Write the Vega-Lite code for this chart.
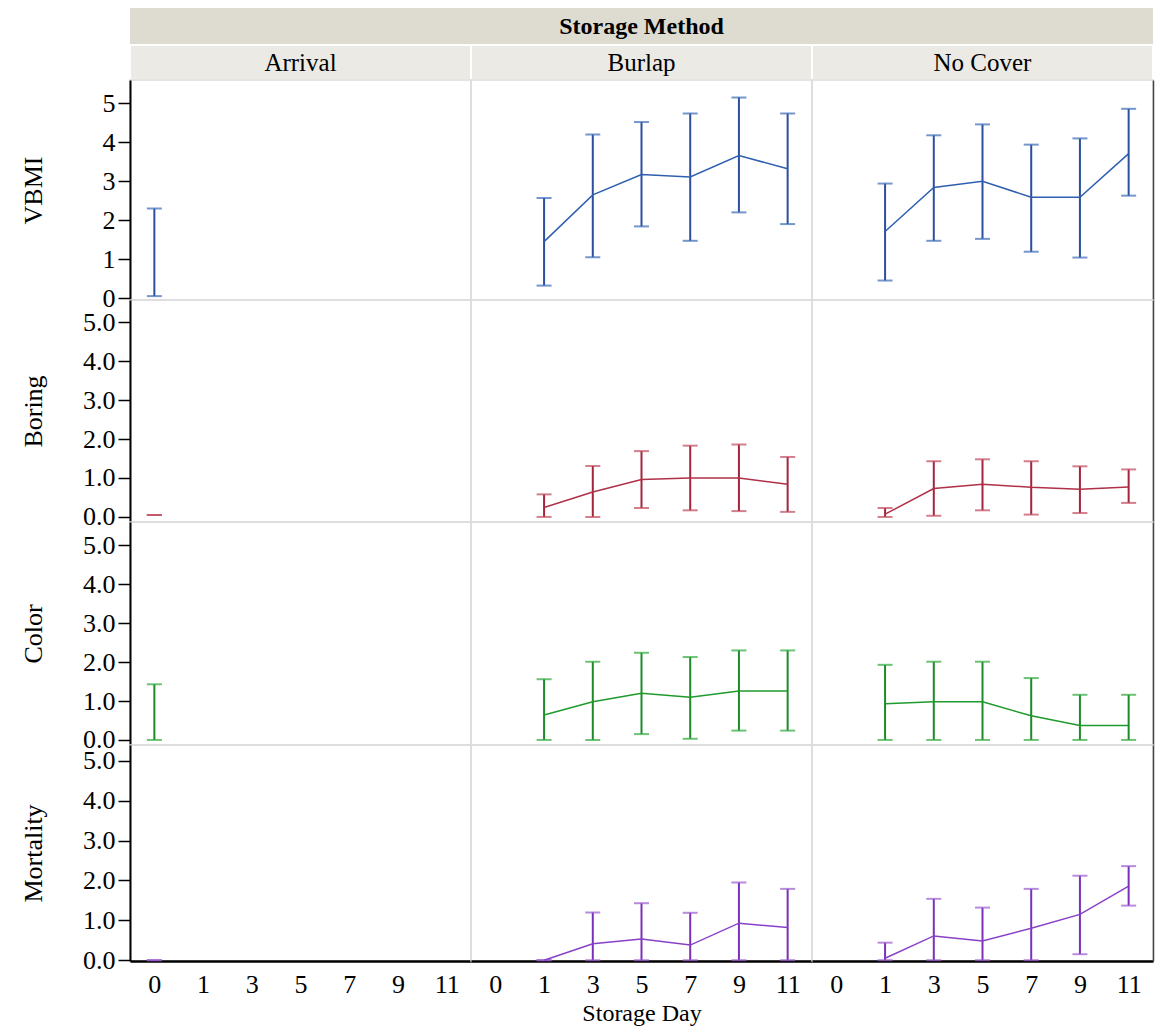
{
  "$schema": "https://vega.github.io/schema/vega-lite/v6.json",
  "padding": {"left": 19, "top": 8, "right": 4, "bottom": 0},
  "background": "#ffffff",
  "spacing": 0,
  "bounds": "flush",
  "columns": 3,
  "config": {
    "font": "Liberation Serif",
    "view": {"stroke": "#dcdcdc", "strokeWidth": 1.5},
    "axis": {"domainColor": "#000000", "domainWidth": 2, "tickColor": "#000000", "tickWidth": 1.5, "labelColor": "#000000", "labelFont": "Liberation Serif", "labelFontSize": 26, "titleFont": "Liberation Serif", "titleFontSize": 26, "titleFontWeight": "normal", "titleColor": "#000000", "labelPadding": 3, "grid": false},
    "concat": {"spacing": 0},
    "tick": {"size": 15, "thickness": 2},
    "rule": {"strokeWidth": 2},
    "line": {"strokeWidth": 1.5}
  },
  "datasets": {
    "d": [
      {"method": "Arrival", "measure": "VBMI", "day": 0, "mean": 1.2, "lo": 0.05, "hi": 2.3},
      {"method": "Burlap", "measure": "VBMI", "day": 1, "mean": 1.45, "lo": 0.32, "hi": 2.57},
      {"method": "Burlap", "measure": "VBMI", "day": 3, "mean": 2.65, "lo": 1.05, "hi": 4.2},
      {"method": "Burlap", "measure": "VBMI", "day": 5, "mean": 3.17, "lo": 1.84, "hi": 4.52},
      {"method": "Burlap", "measure": "VBMI", "day": 7, "mean": 3.11, "lo": 1.47, "hi": 4.74},
      {"method": "Burlap", "measure": "VBMI", "day": 9, "mean": 3.66, "lo": 2.2, "hi": 5.15},
      {"method": "Burlap", "measure": "VBMI", "day": 11, "mean": 3.32, "lo": 1.9, "hi": 4.74},
      {"method": "No Cover", "measure": "VBMI", "day": 1, "mean": 1.71, "lo": 0.45, "hi": 2.94},
      {"method": "No Cover", "measure": "VBMI", "day": 3, "mean": 2.84, "lo": 1.47, "hi": 4.18},
      {"method": "No Cover", "measure": "VBMI", "day": 5, "mean": 3.0, "lo": 1.52, "hi": 4.46},
      {"method": "No Cover", "measure": "VBMI", "day": 7, "mean": 2.59, "lo": 1.19, "hi": 3.94},
      {"method": "No Cover", "measure": "VBMI", "day": 9, "mean": 2.59, "lo": 1.04, "hi": 4.1},
      {"method": "No Cover", "measure": "VBMI", "day": 11, "mean": 3.71, "lo": 2.63, "hi": 4.86},
      {"method": "Arrival", "measure": "Boring", "day": 0, "mean": 0.05, "lo": 0.05, "hi": 0.05},
      {"method": "Burlap", "measure": "Boring", "day": 1, "mean": 0.24, "lo": 0.0, "hi": 0.58},
      {"method": "Burlap", "measure": "Boring", "day": 3, "mean": 0.64, "lo": 0.0, "hi": 1.31},
      {"method": "Burlap", "measure": "Boring", "day": 5, "mean": 0.96, "lo": 0.23, "hi": 1.69},
      {"method": "Burlap", "measure": "Boring", "day": 7, "mean": 1.0, "lo": 0.17, "hi": 1.83},
      {"method": "Burlap", "measure": "Boring", "day": 9, "mean": 1.0, "lo": 0.15, "hi": 1.86},
      {"method": "Burlap", "measure": "Boring", "day": 11, "mean": 0.84, "lo": 0.13, "hi": 1.54},
      {"method": "No Cover", "measure": "Boring", "day": 1, "mean": 0.07, "lo": 0.0, "hi": 0.23},
      {"method": "No Cover", "measure": "Boring", "day": 3, "mean": 0.73, "lo": 0.03, "hi": 1.43},
      {"method": "No Cover", "measure": "Boring", "day": 5, "mean": 0.84, "lo": 0.17, "hi": 1.48},
      {"method": "No Cover", "measure": "Boring", "day": 7, "mean": 0.76, "lo": 0.06, "hi": 1.43},
      {"method": "No Cover", "measure": "Boring", "day": 9, "mean": 0.71, "lo": 0.1, "hi": 1.3},
      {"method": "No Cover", "measure": "Boring", "day": 11, "mean": 0.77, "lo": 0.36, "hi": 1.22},
      {"method": "Arrival", "measure": "Color", "day": 0, "mean": 0.5, "lo": 0.0, "hi": 1.43},
      {"method": "Burlap", "measure": "Color", "day": 1, "mean": 0.64, "lo": 0.0, "hi": 1.56},
      {"method": "Burlap", "measure": "Color", "day": 3, "mean": 0.98, "lo": 0.0, "hi": 2.01},
      {"method": "Burlap", "measure": "Color", "day": 5, "mean": 1.2, "lo": 0.15, "hi": 2.24},
      {"method": "Burlap", "measure": "Color", "day": 7, "mean": 1.1, "lo": 0.03, "hi": 2.13},
      {"method": "Burlap", "measure": "Color", "day": 9, "mean": 1.26, "lo": 0.24, "hi": 2.3},
      {"method": "Burlap", "measure": "Color", "day": 11, "mean": 1.26, "lo": 0.24, "hi": 2.3},
      {"method": "No Cover", "measure": "Color", "day": 1, "mean": 0.93, "lo": 0.0, "hi": 1.93},
      {"method": "No Cover", "measure": "Color", "day": 3, "mean": 0.98, "lo": 0.0, "hi": 2.01},
      {"method": "No Cover", "measure": "Color", "day": 5, "mean": 0.98, "lo": 0.0, "hi": 2.01},
      {"method": "No Cover", "measure": "Color", "day": 7, "mean": 0.62, "lo": 0.0, "hi": 1.59},
      {"method": "No Cover", "measure": "Color", "day": 9, "mean": 0.37, "lo": 0.0, "hi": 1.16},
      {"method": "No Cover", "measure": "Color", "day": 11, "mean": 0.37, "lo": 0.0, "hi": 1.16},
      {"method": "Arrival", "measure": "Mortality", "day": 0, "mean": 0.0, "lo": 0.0, "hi": 0.0},
      {"method": "Burlap", "measure": "Mortality", "day": 1, "mean": 0.0, "lo": 0.0, "hi": 0.0},
      {"method": "Burlap", "measure": "Mortality", "day": 3, "mean": 0.41, "lo": 0.0, "hi": 1.2},
      {"method": "Burlap", "measure": "Mortality", "day": 5, "mean": 0.53, "lo": 0.0, "hi": 1.43},
      {"method": "Burlap", "measure": "Mortality", "day": 7, "mean": 0.38, "lo": 0.0, "hi": 1.19},
      {"method": "Burlap", "measure": "Mortality", "day": 9, "mean": 0.93, "lo": 0.0, "hi": 1.95},
      {"method": "Burlap", "measure": "Mortality", "day": 11, "mean": 0.82, "lo": 0.0, "hi": 1.79},
      {"method": "No Cover", "measure": "Mortality", "day": 1, "mean": 0.05, "lo": 0.0, "hi": 0.44},
      {"method": "No Cover", "measure": "Mortality", "day": 3, "mean": 0.61, "lo": 0.0, "hi": 1.54},
      {"method": "No Cover", "measure": "Mortality", "day": 5, "mean": 0.48, "lo": 0.0, "hi": 1.32},
      {"method": "No Cover", "measure": "Mortality", "day": 7, "mean": 0.8, "lo": 0.0, "hi": 1.79},
      {"method": "No Cover", "measure": "Mortality", "day": 9, "mean": 1.15, "lo": 0.15, "hi": 2.12},
      {"method": "No Cover", "measure": "Mortality", "day": 11, "mean": 1.86, "lo": 1.37, "hi": 2.36}
    ],
    "txt": [{"t": "Storage Method", "a": "Arrival", "b": "Burlap", "c": "No Cover", "e": ""}]
  },
  "concat": [
    {"data": {"name": "txt"}, "width": 341, "height": 37, "view": {"fill": "#dedbd1", "stroke": null},
     "mark": {"type": "text"}, "encoding": {"text": {"field": "e"}}},
    {"data": {"name": "txt"}, "width": 341, "height": 37, "view": {"fill": "#dedbd1", "stroke": null},
     "mark": {"type": "text", "fontSize": 24, "fontWeight": "bold", "color": "#000000"}, "encoding": {"text": {"field": "t"}}},
    {"data": {"name": "txt"}, "width": 341, "height": 37, "view": {"fill": "#dedbd1", "stroke": null},
     "mark": {"type": "text"}, "encoding": {"text": {"field": "e"}}},

    {"data": {"name": "txt"}, "width": 341, "height": 35, "view": {"fill": "#eceae4", "stroke": "#ffffff", "strokeWidth": 2},
     "mark": {"type": "text", "fontSize": 25, "color": "#000000"}, "encoding": {"text": {"field": "a"}}},
    {"data": {"name": "txt"}, "width": 341, "height": 35, "view": {"fill": "#eceae4", "stroke": "#ffffff", "strokeWidth": 2},
     "mark": {"type": "text", "fontSize": 25, "color": "#000000"}, "encoding": {"text": {"field": "b"}}},
    {"data": {"name": "txt"}, "width": 341, "height": 35, "view": {"fill": "#eceae4", "stroke": "#ffffff", "strokeWidth": 2},
     "mark": {"type": "text", "fontSize": 25, "color": "#000000"}, "encoding": {"text": {"field": "c"}}},

    {"data": {"name": "d"}, "transform": [{"filter": "datum.measure === 'VBMI' && datum.method === 'Arrival'"}], "width": 341, "height": 220,
     "encoding": {"x": {"field": "day", "type": "ordinal", "scale": {"type": "point", "domain": [0, 1, 3, 5, 7, 9, 11], "padding": 0.5}, "axis": null}},
     "layer": [
       {"mark": {"type": "rule", "color": "#2b4f9c"}, "encoding": {"y": {"field": "lo", "type": "quantitative", "title": "VBMI", "scale": {"domain": [-0.05, 5.6], "nice": false, "zero": false},
         "axis": {"values": [0, 0.5, 1, 1.5, 2, 2.5, 3, 3.5, 4, 4.5, 5], "labelExpr": "datum.value % 1 === 0 ? format(datum.value, 'd') : ''", "tickSize": {"condition": {"test": "datum.value % 1 === 0", "value": 12}, "value": 6}, "minExtent": 62, "maxExtent": 62, "titlePadding": 22, "labelOverlap": false}}, "y2": {"field": "hi"}}},
       {"transform": [{"fold": ["lo", "hi"], "as": ["k", "v"]}], "mark": {"type": "tick", "color": "#3b6ab8"}, "encoding": {"y": {"field": "v", "type": "quantitative", "title": "VBMI"}}},
       {"mark": {"type": "line", "color": "#2f5fb0"}, "encoding": {"y": {"field": "mean", "type": "quantitative", "title": "VBMI"}}}
     ]},
    {"data": {"name": "d"}, "transform": [{"filter": "datum.measure === 'VBMI' && datum.method === 'Burlap'"}], "width": 341, "height": 220,
     "encoding": {"x": {"field": "day", "type": "ordinal", "scale": {"type": "point", "domain": [0, 1, 3, 5, 7, 9, 11], "padding": 0.5}, "axis": null}},
     "layer": [
       {"mark": {"type": "rule", "color": "#2b4f9c"}, "encoding": {"y": {"field": "lo", "type": "quantitative", "scale": {"domain": [-0.05, 5.6], "nice": false, "zero": false}, "axis": null}, "y2": {"field": "hi"}}},
       {"transform": [{"fold": ["lo", "hi"], "as": ["k", "v"]}], "mark": {"type": "tick", "color": "#3b6ab8"}, "encoding": {"y": {"field": "v", "type": "quantitative"}}},
       {"mark": {"type": "line", "color": "#2f5fb0"}, "encoding": {"y": {"field": "mean", "type": "quantitative"}}}
     ]},
    {"data": {"name": "d"}, "transform": [{"filter": "datum.measure === 'VBMI' && datum.method === 'No Cover'"}], "width": 341, "height": 220,
     "encoding": {"x": {"field": "day", "type": "ordinal", "scale": {"type": "point", "domain": [0, 1, 3, 5, 7, 9, 11], "padding": 0.5}, "axis": null}},
     "layer": [
       {"mark": {"type": "rule", "color": "#2b4f9c"}, "encoding": {"y": {"field": "lo", "type": "quantitative", "scale": {"domain": [-0.05, 5.6], "nice": false, "zero": false}, "axis": {"orient": "right", "labels": false, "ticks": false, "title": null, "domainColor": "#444444", "domainWidth": 1.5}}, "y2": {"field": "hi"}}},
       {"transform": [{"fold": ["lo", "hi"], "as": ["k", "v"]}], "mark": {"type": "tick", "color": "#3b6ab8"}, "encoding": {"y": {"field": "v", "type": "quantitative"}}},
       {"mark": {"type": "line", "color": "#2f5fb0"}, "encoding": {"y": {"field": "mean", "type": "quantitative"}}}
     ]},

    {"data": {"name": "d"}, "transform": [{"filter": "datum.measure === 'Boring' && datum.method === 'Arrival'"}], "width": 341, "height": 222,
     "encoding": {"x": {"field": "day", "type": "ordinal", "scale": {"type": "point", "domain": [0, 1, 3, 5, 7, 9, 11], "padding": 0.5}, "axis": null}},
     "layer": [
       {"mark": {"type": "rule", "color": "#a3253c"}, "encoding": {"y": {"field": "lo", "type": "quantitative", "title": "Boring", "scale": {"domain": [-0.13, 5.57], "nice": false, "zero": false},
         "axis": {"values": [0, 0.5, 1, 1.5, 2, 2.5, 3, 3.5, 4, 4.5, 5], "labelExpr": "datum.value % 1 === 0 ? format(datum.value, '.1f') : ''", "tickSize": {"condition": {"test": "datum.value % 1 === 0", "value": 12}, "value": 6}, "minExtent": 62, "maxExtent": 62, "titlePadding": 22, "labelOverlap": false}}, "y2": {"field": "hi"}}},
       {"transform": [{"fold": ["lo", "hi"], "as": ["k", "v"]}], "mark": {"type": "tick", "color": "#c0485c"}, "encoding": {"y": {"field": "v", "type": "quantitative", "title": "Boring"}}},
       {"mark": {"type": "line", "color": "#b03048"}, "encoding": {"y": {"field": "mean", "type": "quantitative", "title": "Boring"}}}
     ]},
    {"data": {"name": "d"}, "transform": [{"filter": "datum.measure === 'Boring' && datum.method === 'Burlap'"}], "width": 341, "height": 222,
     "encoding": {"x": {"field": "day", "type": "ordinal", "scale": {"type": "point", "domain": [0, 1, 3, 5, 7, 9, 11], "padding": 0.5}, "axis": null}},
     "layer": [
       {"mark": {"type": "rule", "color": "#a3253c"}, "encoding": {"y": {"field": "lo", "type": "quantitative", "scale": {"domain": [-0.13, 5.57], "nice": false, "zero": false}, "axis": null}, "y2": {"field": "hi"}}},
       {"transform": [{"fold": ["lo", "hi"], "as": ["k", "v"]}], "mark": {"type": "tick", "color": "#c0485c"}, "encoding": {"y": {"field": "v", "type": "quantitative"}}},
       {"mark": {"type": "line", "color": "#b03048"}, "encoding": {"y": {"field": "mean", "type": "quantitative"}}}
     ]},
    {"data": {"name": "d"}, "transform": [{"filter": "datum.measure === 'Boring' && datum.method === 'No Cover'"}], "width": 341, "height": 222,
     "encoding": {"x": {"field": "day", "type": "ordinal", "scale": {"type": "point", "domain": [0, 1, 3, 5, 7, 9, 11], "padding": 0.5}, "axis": null}},
     "layer": [
       {"mark": {"type": "rule", "color": "#a3253c"}, "encoding": {"y": {"field": "lo", "type": "quantitative", "scale": {"domain": [-0.13, 5.57], "nice": false, "zero": false}, "axis": {"orient": "right", "labels": false, "ticks": false, "title": null, "domainColor": "#444444", "domainWidth": 1.5}}, "y2": {"field": "hi"}}},
       {"transform": [{"fold": ["lo", "hi"], "as": ["k", "v"]}], "mark": {"type": "tick", "color": "#c0485c"}, "encoding": {"y": {"field": "v", "type": "quantitative"}}},
       {"mark": {"type": "line", "color": "#b03048"}, "encoding": {"y": {"field": "mean", "type": "quantitative"}}}
     ]},

    {"data": {"name": "d"}, "transform": [{"filter": "datum.measure === 'Color' && datum.method === 'Arrival'"}], "width": 341, "height": 223,
     "encoding": {"x": {"field": "day", "type": "ordinal", "scale": {"type": "point", "domain": [0, 1, 3, 5, 7, 9, 11], "padding": 0.5}, "axis": null}},
     "layer": [
       {"mark": {"type": "rule", "color": "#1c8a28"}, "encoding": {"y": {"field": "lo", "type": "quantitative", "title": "Color", "scale": {"domain": [-0.13, 5.6], "nice": false, "zero": false},
         "axis": {"values": [0, 0.5, 1, 1.5, 2, 2.5, 3, 3.5, 4, 4.5, 5], "labelExpr": "datum.value % 1 === 0 ? format(datum.value, '.1f') : ''", "tickSize": {"condition": {"test": "datum.value % 1 === 0", "value": 12}, "value": 6}, "minExtent": 62, "maxExtent": 62, "titlePadding": 22, "labelOverlap": false}}, "y2": {"field": "hi"}}},
       {"transform": [{"fold": ["lo", "hi"], "as": ["k", "v"]}], "mark": {"type": "tick", "color": "#2ea83a"}, "encoding": {"y": {"field": "v", "type": "quantitative", "title": "Color"}}},
       {"mark": {"type": "line", "color": "#1f9a2c"}, "encoding": {"y": {"field": "mean", "type": "quantitative", "title": "Color"}}}
     ]},
    {"data": {"name": "d"}, "transform": [{"filter": "datum.measure === 'Color' && datum.method === 'Burlap'"}], "width": 341, "height": 223,
     "encoding": {"x": {"field": "day", "type": "ordinal", "scale": {"type": "point", "domain": [0, 1, 3, 5, 7, 9, 11], "padding": 0.5}, "axis": null}},
     "layer": [
       {"mark": {"type": "rule", "color": "#1c8a28"}, "encoding": {"y": {"field": "lo", "type": "quantitative", "scale": {"domain": [-0.13, 5.6], "nice": false, "zero": false}, "axis": null}, "y2": {"field": "hi"}}},
       {"transform": [{"fold": ["lo", "hi"], "as": ["k", "v"]}], "mark": {"type": "tick", "color": "#2ea83a"}, "encoding": {"y": {"field": "v", "type": "quantitative"}}},
       {"mark": {"type": "line", "color": "#1f9a2c"}, "encoding": {"y": {"field": "mean", "type": "quantitative"}}}
     ]},
    {"data": {"name": "d"}, "transform": [{"filter": "datum.measure === 'Color' && datum.method === 'No Cover'"}], "width": 341, "height": 223,
     "encoding": {"x": {"field": "day", "type": "ordinal", "scale": {"type": "point", "domain": [0, 1, 3, 5, 7, 9, 11], "padding": 0.5}, "axis": null}},
     "layer": [
       {"mark": {"type": "rule", "color": "#1c8a28"}, "encoding": {"y": {"field": "lo", "type": "quantitative", "scale": {"domain": [-0.13, 5.6], "nice": false, "zero": false}, "axis": {"orient": "right", "labels": false, "ticks": false, "title": null, "domainColor": "#444444", "domainWidth": 1.5}}, "y2": {"field": "hi"}}},
       {"transform": [{"fold": ["lo", "hi"], "as": ["k", "v"]}], "mark": {"type": "tick", "color": "#2ea83a"}, "encoding": {"y": {"field": "v", "type": "quantitative"}}},
       {"mark": {"type": "line", "color": "#1f9a2c"}, "encoding": {"y": {"field": "mean", "type": "quantitative"}}}
     ]},

    {"data": {"name": "d"}, "transform": [{"filter": "datum.measure === 'Mortality' && datum.method === 'Arrival'"}], "width": 341, "height": 216,
     "encoding": {"x": {"field": "day", "type": "ordinal", "title": null, "scale": {"type": "point", "domain": [0, 1, 3, 5, 7, 9, 11], "padding": 0.5},
       "axis": {"labelAngle": 0, "tickSize": 0, "domainWidth": 2.5, "labelPadding": 10, "titleFontSize": 24, "titlePadding": 4}}},
     "layer": [
       {"mark": {"type": "rule", "color": "#7a30b8"}, "encoding": {"y": {"field": "lo", "type": "quantitative", "title": "Mortality", "scale": {"domain": [-0.02, 5.4], "nice": false, "zero": false},
         "axis": {"values": [0, 0.5, 1, 1.5, 2, 2.5, 3, 3.5, 4, 4.5, 5], "labelExpr": "datum.value % 1 === 0 ? format(datum.value, '.1f') : ''", "tickSize": {"condition": {"test": "datum.value % 1 === 0", "value": 12}, "value": 6}, "minExtent": 62, "maxExtent": 62, "titlePadding": 22, "labelOverlap": false}}, "y2": {"field": "hi"}}},
       {"transform": [{"fold": ["lo", "hi"], "as": ["k", "v"]}], "mark": {"type": "tick", "color": "#9a5ad0"}, "encoding": {"y": {"field": "v", "type": "quantitative", "title": "Mortality"}}},
       {"mark": {"type": "line", "color": "#8840c8"}, "encoding": {"y": {"field": "mean", "type": "quantitative", "title": "Mortality"}}}
     ]},
    {"data": {"name": "d"}, "transform": [{"filter": "datum.measure === 'Mortality' && datum.method === 'Burlap'"}], "width": 341, "height": 216,
     "encoding": {"x": {"field": "day", "type": "ordinal", "title": "Storage Day", "scale": {"type": "point", "domain": [0, 1, 3, 5, 7, 9, 11], "padding": 0.5},
       "axis": {"labelAngle": 0, "tickSize": 0, "domainWidth": 2.5, "labelPadding": 10, "titleFontSize": 24, "titlePadding": 4}}},
     "layer": [
       {"mark": {"type": "rule", "color": "#7a30b8"}, "encoding": {"y": {"field": "lo", "type": "quantitative", "scale": {"domain": [-0.02, 5.4], "nice": false, "zero": false}, "axis": null}, "y2": {"field": "hi"}}},
       {"transform": [{"fold": ["lo", "hi"], "as": ["k", "v"]}], "mark": {"type": "tick", "color": "#9a5ad0"}, "encoding": {"y": {"field": "v", "type": "quantitative"}}},
       {"mark": {"type": "line", "color": "#8840c8"}, "encoding": {"y": {"field": "mean", "type": "quantitative"}}}
     ]},
    {"data": {"name": "d"}, "transform": [{"filter": "datum.measure === 'Mortality' && datum.method === 'No Cover'"}], "width": 341, "height": 216,
     "encoding": {"x": {"field": "day", "type": "ordinal", "title": null, "scale": {"type": "point", "domain": [0, 1, 3, 5, 7, 9, 11], "padding": 0.5},
       "axis": {"labelAngle": 0, "tickSize": 0, "domainWidth": 2.5, "labelPadding": 10, "titleFontSize": 24, "titlePadding": 4}}},
     "layer": [
       {"mark": {"type": "rule", "color": "#7a30b8"}, "encoding": {"y": {"field": "lo", "type": "quantitative", "scale": {"domain": [-0.02, 5.4], "nice": false, "zero": false}, "axis": {"orient": "right", "labels": false, "ticks": false, "title": null, "domainColor": "#444444", "domainWidth": 1.5}}, "y2": {"field": "hi"}}},
       {"transform": [{"fold": ["lo", "hi"], "as": ["k", "v"]}], "mark": {"type": "tick", "color": "#9a5ad0"}, "encoding": {"y": {"field": "v", "type": "quantitative"}}},
       {"mark": {"type": "line", "color": "#8840c8"}, "encoding": {"y": {"field": "mean", "type": "quantitative"}}}
     ]}
  ]
}
